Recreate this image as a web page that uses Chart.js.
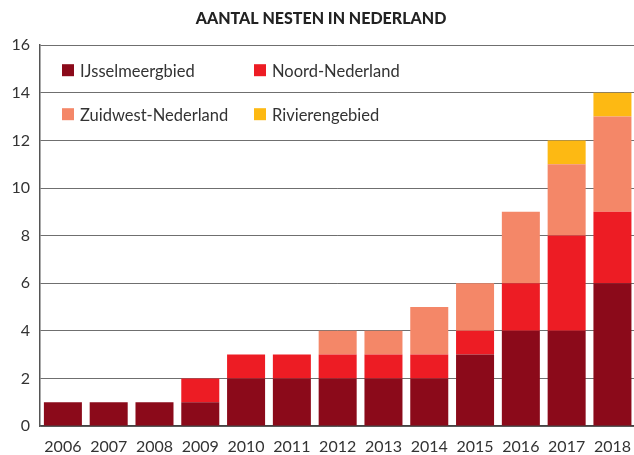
<!DOCTYPE html>
<html>
<head>
<meta charset="utf-8">
<script src="https://cdn.jsdelivr.net/npm/chart.js@4/dist/chart.umd.min.js"></script>
<style>
html,body{margin:0;padding:0;background:#fff;overflow:hidden;}
#wrap{width:634px;height:455px;position:relative;overflow:hidden;}
</style>
</head>
<body>
<div id="wrap"><canvas id="c" width="642" height="455"></canvas></div>
<script>
const title = 'AANTAL NESTEN IN NEDERLAND';
const years = ['2006','2007','2008','2009','2010','2011','2012','2013','2014','2015','2016','2017','2018'];
const ijsselmeer = [1,1,1,1,2,2,2,2,2,3,4,4,6];
const noord      = [0,0,0,1,1,1,1,1,1,1,2,4,3];
const zuidwest   = [0,0,0,0,0,0,1,1,2,2,3,3,4];
const rivieren   = [0,0,0,0,0,0,0,0,0,0,0,1,1];
const seriesNames = ['IJsselmeergbied','Noord-Nederland','Zuidwest-Nederland','Rivierengebied'];
const seriesColors = ['#8B0A1A','#ED1C24','#F48768','#FDB913'];
const yTicks = [0,2,4,6,8,10,12,14,16];

const FONT = 'Lato, "Open Sans", sans-serif';

const legendPlugin = {
  id: 'inlineLegend',
  afterDraw(chart) {
    const ctx = chart.ctx;
    const a = chart.chartArea;
    const cols = [a.left + 22, a.left + 214];
    const rows = [a.top + 25, a.top + 69];
    ctx.save();
    ctx.font = '16.5px ' + FONT;
    ctx.textBaseline = 'middle';
    ctx.textAlign = 'left';
    chart.data.datasets.forEach((ds, i) => {
      const x = cols[i % 2], y = rows[Math.floor(i / 2)];
      ctx.fillStyle = ds.backgroundColor;
      ctx.fillRect(x, y - 6, 12, 12);
      ctx.fillStyle = '#333';
      ctx.fillText(ds.label, x + 18, y + 1);
    });
    ctx.restore();
  }
};

const seriesData = [ijsselmeer, noord, zuidwest, rivieren];
new Chart(document.getElementById('c'), {
  type: 'bar',
  data: {
    labels: years,
    datasets: seriesData.map((d, i) => ({
      label: seriesNames[i],
      data: d,
      backgroundColor: seriesColors[i],
      borderWidth: 0,
      categoryPercentage: 0.83,
      barPercentage: 1.0
    }))
  },
  options: {
    responsive: false,
    animation: false,
    layout: { padding: { left: 0, right: 0, top: 0, bottom: 0 } },
    plugins: {
      legend: { display: false },
      tooltip: { enabled: false },
      title: {
        display: true,
        text: title,
        color: '#222',
        font: { family: FONT, size: 16, weight: 900 },
        padding: { top: 9, bottom: 17 }
      }
    },
    scales: {
      x: {
        stacked: true,
        grid: { display: false, drawTicks: false },
        border: { display: true, color: '#444', width: 1.5 },
        ticks: { color: '#333', font: { family: FONT, size: 16 }, padding: 11, maxRotation: 0, autoSkip: false },
        afterFit(s) { s.height = 29; }
      },
      y: {
        stacked: true,
        min: 0, max: 16,
        afterBuildTicks(s) { s.ticks = yTicks.map(v => ({ value: v })); },
        grid: { color: '#6f6f6f', lineWidth: 1, drawTicks: false },
        border: { display: true, color: '#555', width: 1.5 },
        ticks: { color: '#333', font: { family: FONT, size: 16 }, padding: 10 },
        afterFit(s) { s.width = 40; }
      }
    }
  },
  plugins: [legendPlugin]
});
</script>
</body>
</html>
